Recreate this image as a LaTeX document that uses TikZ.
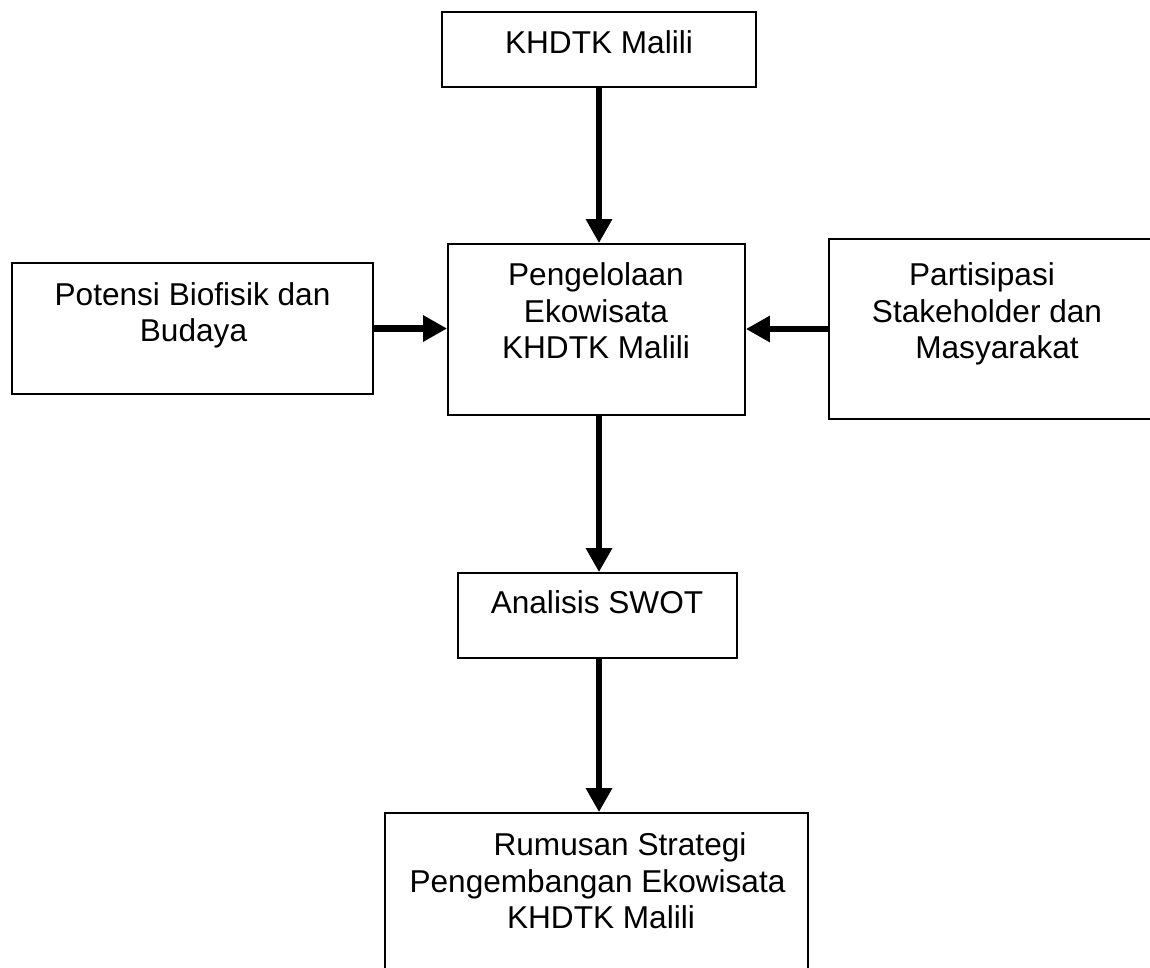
\documentclass[tikz,border=0pt]{standalone}
\usepackage{fontspec}
\setmainfont{Liberation Sans}
\usetikzlibrary{arrows.meta}
\tikzset{
  box/.style={draw=black, line width=1.8pt, inner sep=0pt, fill=white},
  txt/.style={anchor=base, inner sep=0pt, font=\fontsize{31.6}{37}\selectfont},
  arr/.style={line width=6.5pt, -{Triangle[length=24pt,width=25pt]}}
}
\begin{document}
\begin{tikzpicture}[x=1pt,y=-1pt]
\useasboundingbox[fill=white] (0,0) rectangle (1150,967);
% boxes
\node[box, minimum width=314pt, minimum height=75pt] (k) at (599,49.5) {};
\node[box, minimum width=297pt, minimum height=171pt] (p) at (596.5,329.5) {};
\node[box, minimum width=361pt, minimum height=131pt] (b) at (192.5,328.5) {};
\node[box, minimum width=324pt, minimum height=180pt] (s) at (991,329) {};
\node[box, minimum width=279pt, minimum height=85pt] (a) at (597.5,615.5) {};
\node[box, minimum width=423pt, minimum height=162pt] (r) at (596.5,894) {};
% texts
\node[txt] (k1) at (599,53) {KHDTK Malili};
\node[txt] (p1) at (596,285) {Pengelolaan};
\node[txt] (p2) at (596,322) {Ekowisata};
\node[txt] (p3) at (596,358) {KHDTK Malili};
\node[txt] (b1) at (192.5,305) {Potensi Biofisik dan};
\node[txt] (b2) at (193.5,341) {Budaya};
\node[txt] (s1) at (982,285) {Partisipasi};
\node[txt] (s2) at (987,322) {Stakeholder dan};
\node[txt] (s3) at (997,358) {Masyarakat};
\node[txt] (a1) at (597,613) {Analisis SWOT};
\node[txt] (r1) at (620,855) {Rumusan Strategi};
\node[txt] (r2) at (597.5,892) {Pengembangan Ekowisata};
\node[txt] (r3) at (601,928) {KHDTK Malili};
% connectors
\draw[arr] (k.south) -- (k.south |- p.north);
\draw[arr] (b.east) -- (b.east -| p.west);
\draw[arr] (s.west) -- (s.west -| p.east);
\draw[arr] ([xshift=2.5pt]p.south) -- ([xshift=2.5pt]p.south |- a.north);
\draw[arr] ([xshift=1.5pt]a.south) -- ([xshift=1.5pt]a.south |- r.north);
\end{tikzpicture}
\end{document}
